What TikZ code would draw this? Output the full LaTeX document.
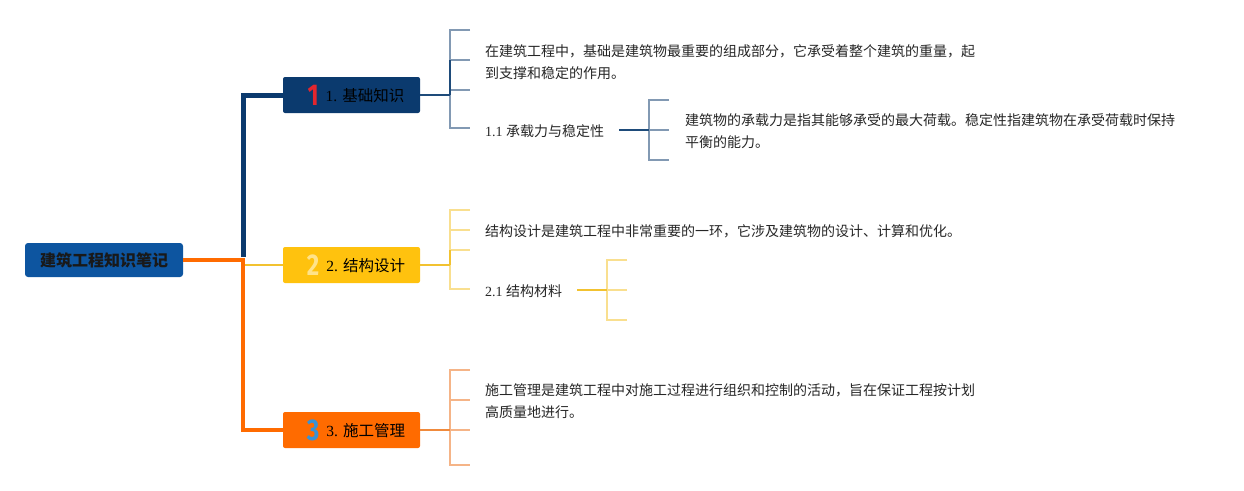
\documentclass[tikz,border=0pt]{standalone}
\usepackage{fontspec}
\setmainfont{Liberation Serif}
\newfontfamily\cjk{Noto Sans CJK SC}
\newfontfamily\numfont{Fira Sans}
\definecolor{rootblue}{HTML}{0D55A0}
\definecolor{navy}{HTML}{0B3A6E}
\definecolor{navyline}{HTML}{1E4B7A}
\definecolor{brka}{HTML}{8299B3}
\definecolor{ylw}{HTML}{FFC20E}
\definecolor{ylwline}{HTML}{F2C230}
\definecolor{brkb}{HTML}{F9DF8F}
\definecolor{orng}{HTML}{FF6B00}
\definecolor{orngline}{HTML}{F08A3C}
\definecolor{brkc}{HTML}{F5B487}
\definecolor{numred}{HTML}{E3262E}
\definecolor{numylw}{HTML}{FFE38A}
\definecolor{numblue}{HTML}{3A92D4}
\definecolor{txt}{HTML}{262626}
\newcommand\bignum[2]{\hspace*{9pt}\raisebox{-4pt}{\scalebox{0.8}[1]{\numfont\bfseries\fontsize{30}{30}\selectfont\color{#1}#2}}}
\begin{document}
\begin{tikzpicture}[x=1pt,y=-1pt,
  every node/.style={inner sep=0pt, outer sep=0pt},
  mainbox/.style={rounded corners=2pt, minimum width=137pt, minimum height=36pt, font=\fontsize{15.5}{15.5}\selectfont, text=black},
  desc/.style={anchor=west, align=left, text=txt, font=\cjk\fontsize{14}{22}\selectfont},
  sub/.style={anchor=west, text=txt, font=\fontsize{14}{14}\selectfont},
  trunk/.style={line width=5pt, line join=miter},
  feed/.style={line width=2.2pt},
  brk/.style={line width=1.8pt},
]
\useasboundingbox (0,0) rectangle (1244,490);

% root and main topics
\node[fill=rootblue, rounded corners=3pt, minimum width=158pt, minimum height=34pt,
      font=\cjk\bfseries\fontsize{16}{16}\selectfont, text=black!90] (root) at (104,260) {建筑工程知识笔记};
\node[mainbox, fill=navy] (b1) at (351.5,95) {\bignum{numred}{1}\hspace{7pt}1. {\cjk 基础知识}};
\node[mainbox, fill=ylw]  (b2) at (351.5,265) {\bignum{numylw}{2}\hspace{7pt}2. {\cjk 结构设计}};
\node[mainbox, fill=orng] (b3) at (351.5,430) {\bignum{numblue}{3}\hspace{7pt}3. {\cjk 施工管理}};

% trunk connectors
\coordinate (jn) at (243,257);
\coordinate (jy) at (243,265);
\coordinate (jo) at (243,260);
\draw[trunk, draw=navy] (jn) |- (b1.west);
\draw[line width=2pt, draw=ylwline] (jy) -- (b2.west);
\draw[trunk, line width=4.5pt, draw=orng] (root.east) -- (jo) |- (b3.west);

% text nodes
\node[desc] (p1) at (485,62) {在建筑工程中，基础是建筑物最重要的组成部分，它承受着整个建筑的重量，起\\到支撑和稳定的作用。};
\node[sub] (t11) at (485,131) {1.1 {\cjk 承载力与稳定性}};
\node[desc] (p11) at (685,131) {建筑物的承载力是指其能够承受的最大荷载。稳定性指建筑物在承受荷载时保持\\平衡的能力。};
\node[desc] (p2) at (485,231) {结构设计是建筑工程中非常重要的一环，它涉及建筑物的设计、计算和优化。};
\node[sub] (t21) at (485,291) {2.1 {\cjk 结构材料}};
\node[desc] (p3) at (485,401) {施工管理是建筑工程中对施工过程进行组织和控制的活动，旨在保证工程按计划\\高质量地进行。};

% bracket 1
\coordinate (k1) at (450,95);
\draw[brk, draw=brka] (470,30) -- (450,30) -- (450,128) -- (470,128);
\draw[brk, draw=brka] (450,60) -- (470,60) (450,90) -- (470,90);
\draw[brk, draw=navyline] (450,60) -- (k1);
\draw[feed, draw=navyline] (b1.east) -- (k1);

% bracket 1.1
\coordinate (k11a) at (619,130);
\coordinate (k11) at (649,130);
\draw[brk, draw=brka] (669,100) -- (649,100) -- (649,160) -- (669,160);
\draw[brk, draw=brka] (649,130) -- (669,130);
\draw[feed, draw=navyline] (k11a) -- (k11);

% bracket 2
\coordinate (k2) at (450,265);
\draw[brk, draw=brkb] (470,210) -- (450,210) -- (450,289) -- (470,289);
\draw[brk, draw=brkb] (450,230) -- (470,230) (450,250) -- (470,250);
\draw[brk, draw=ylwline] (450,250) -- (k2);
\draw[line width=2pt, draw=ylwline] (b2.east) -- (k2);

% bracket 2.1
\coordinate (k21a) at (577,290);
\coordinate (k21) at (607,290);
\draw[brk, draw=brkb] (627,260) -- (607,260) -- (607,320) -- (627,320);
\draw[brk, draw=brkb] (607,290) -- (627,290);
\draw[feed, draw=ylwline] (k21a) -- (k21);

% bracket 3
\coordinate (k3) at (450,430);
\draw[brk, draw=brkc] (470,370) -- (450,370) -- (450,465) -- (470,465);
\draw[brk, draw=brkc] (450,400) -- (470,400) (450,430) -- (470,430);
\draw[feed, draw=orngline] (b3.east) -- (k3);
\end{tikzpicture}
\end{document}
